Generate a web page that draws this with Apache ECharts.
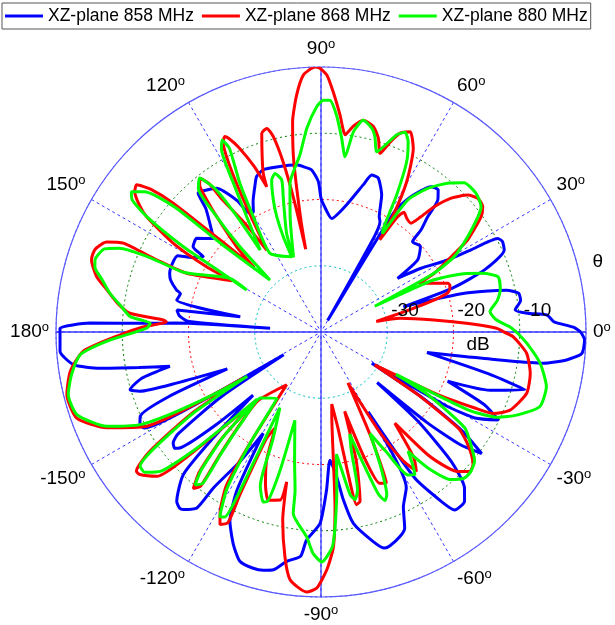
<!DOCTYPE html>
<html><head><meta charset="utf-8">
<script src="https://cdn.jsdelivr.net/npm/echarts@6/dist/echarts.min.js"></script>
<style>html,body{margin:0;padding:0;background:#fff}#c{width:615px;height:625px}</style>
</head><body><div id="c"></div>
<script>
// ---- data: [angle (deg), gain (dB)] in drawing order ----
const seriesNames = ['XZ-plane 858 MHz', 'XZ-plane 868 MHz', 'XZ-plane 880 MHz'];
const angleTicks = [0, 30, 60, 90, 120, 150, 180, 210, 240, 270, 300, 330];
const ringLabels = [-30, -20, -10];

const blue858 = [[0,-0.8],[1.1,-1.9],[2.5,-4.8],[4.3,-5.8],[5.2,-8.7],[6.5,-10.5],[9,-9.5],[11.1,-9.6],[12.7,-11.3],[14.9,-17],[16,-22],[17,-27],
[18.5,-19],[20.8,-13.6],[24.1,-9.7],[26.5,-9.4],[27.9,-9.8],[28.7,-14.2],[29.6,-18],[32.5,-22.1],[35,-25.9],
[36.7,-21.8],[40.7,-20.2],[44.6,-20.6],[45.6,-18.4],[47.2,-16.3],[48.5,-13.4],[50.5,-12.2],[52.9,-12.5],[56.4,-15.5],[58.6,-18.7],[60,-38],[60.8,-23.5],[61.9,-21.1],[63.2,-20.5],[66.1,-17.4],[69.6,-15.2],[72.1,-15.1],[74,-16.9],[78.6,-20.4],[84.6,-22.8],[88.5,-21],[90,-19.8],[91,-17.3],[93.3,-15.5],[96.1,-14.9],[98.3,-14.5],[105,-14.2],[109.6,-14],[112.5,-14.6],[114.2,-15.7],[117.5,-17.8],[119.4,-19.2],[120.9,-19.1],[122.6,-16.4],[126,-13.2],[128.8,-12.5],[131.5,-12],[133,-14.5],[135.6,-16.5],[139,-18.5],[143,-16.5],[146.3,-16.8],[147.4,-18.9],[150,-17.5],[152,-15.5],[155,-15.3],[158.8,-15.5],[161,-16],[163.8,-17.3],[164.7,-18],[167.5,-17.7],[169.3,-27.6],[171.3,-18],[173.5,-18.5],[175.5,-20],[175.9,-32.3],[176.5,-18],[177.1,-14.2],[177.8,-5.1],[179.2,-0.6],
[181.3,-0.6],[184.2,-0.5],[187.5,-2.3],[189.3,-6.2],[191,-12],[192.8,-16.6],[194.5,-12],[196.8,-9.9],[198.1,-11.2],[199.5,-17],[201.5,-24.8],[203,-15],[205,-9.9],[207.1,-9.3],[208.5,-9.6],[210,-18],[211.4,-33.4],[213,-22],[215.5,-13.5],[216.9,-12.1],[218.5,-11.8],[219.4,-12.4],[221.5,-19],[222.9,-26],[224.5,-17.2],[226,-10.1],[229.6,-6.4],[231.3,-5.9],[232.2,-6.1],[234.8,-7.5],[235.4,-11.4],[238,-17],[240.3,-22.4],[242,-13],[244.3,-8.3],[247.6,-5.3],[250.5,-3.3],[254,-2.9],[256.4,-3],[258.7,-3.4],[261.5,-5],[264.8,-6],[266,-8.5],[269.7,-11.1],[272,-16.1],[274,-20.6],[276.2,-18],[277.6,-14.4],[279.6,-10.7],[284,-7.4],[286.4,-6],[287.9,-6.1],[291.1,-6.9],[293.1,-7.8],[295.2,-10.8],[298.7,-13.2],[300.6,-26],[302.7,-13.8],[305.4,-8.6],[306.9,-6.4],[310.3,-6.5],[312.6,-8],[315.2,-12.3],[317.4,-20.1],[318,-28.6],[319.5,-19],[321,-13],[322.9,-9.6],[325,-14],[327.1,-22],[328.4,-31],[329.5,-18],[330.8,-13.4],[333.6,-10.1],[336,-13],[338.8,-19.5],[341,-13],[344.2,-8],[346,-14],[349,-23.7],[350.4,-17.7],[351.1,-12.6],[352,-6.1],[353.5,-2.7],[355.3,-0.5],[358.3,-0.2],[360,-0.8]];

const red868 = [[0,-12.4],[1.2,-13.5],[3.4,-18],[6.1,-22.9],[9.8,-27.9],[10.8,-31.5],[13.3,-27.8],[14.7,-24.9],[15.8,-22.2],[17.1,-20],[18.5,-19.5],[20,-19.3],[21,-19.5],[23.5,-21.5],[25.4,-22.9],[26.3,-23.5],[27.4,-20.7],[30.5,-16.6],[32.1,-13.9],[35.8,-10.2],[37.8,-9.1],[40.5,-8.9],[43,-9.7],[45.8,-11.8],[47.9,-14.5],[49.1,-17],[50.4,-18.7],[53,-18.5],[55.3,-18],[56.4,-19.1],[57.5,-23.5],[58.3,-19.2],[60.3,-13.9],[63.3,-9],[66,-6.9],[68.3,-7.7],[70,-9.5],[71.7,-11.6],[73.5,-9.5],[75.7,-8],[78.7,-7.4],[81,-8.5],[83,-10],[85,-7.1],[87.1,-3.7],[88.7,-1.2],[90.4,-0.1],[91.3,0],[93.9,-1.1],[95.9,-4.1],[97.7,-8],[98.9,-13],[99.6,-18],[100.2,-23],[100.5,-27.3],
[101.5,-20],[102.5,-14],[103.7,-9.7],[104.9,-8.2],[106.6,-8.7],[108.5,-12],[110,-14.5],[110.5,-16.6],[112,-13],[114,-9.5],[115.5,-7.6],[116.2,-7.1],[117.3,-7.8],[118.5,-10.5],[120,-15.5],[121.5,-20.5],[123.5,-25.2],[125,-20],[126.7,-15],[127,-12],[128.2,-10.5],[129.5,-11.2],[131,-14],[132.1,-16.5],[134.7,-21.9],[136,-26],[137.5,-20],[138.9,-10.4],[140,-6.5],[141.4,-4.4],[143,-4.8],[145,-6.5],[146.5,-8.4],[149,-14],[150.3,-20.1],[150,-24.5],[156.4,-17.9],[156.3,-12.9],[155.8,-7.3],[157.2,-4.9],[159.5,-3.8],[160.9,-3.6],[162.6,-3.7],[166.1,-5.1],[168.9,-7.1],[172,-9],[174.4,-11],[175.6,-16.1],[176.2,-16.6],[178.5,-13],
[180.8,-9.7],[184.6,-4],[188.9,-1.7],[193.8,-0.5],[199.4,-0.9],[204.1,-4.6],[208.4,-10.1],[210.2,-21.2],[210.6,-26.4],[212.3,-16.6],[214.9,-8.5],[217,-5.1],[218.2,-5.2],[221.3,-7],[223.1,-13],[224.5,-20.1],[226.5,-25.5],[227,-18],[229,-12],[230.8,-9.5],[232,-10.5],[230.5,-16],[228.5,-22],[227.5,-26],[236.9,-30.5],[237.4,-21],[238.3,-12.9],[240.7,-8.9],[242.3,-7.2],[244,-8],[243.5,-12.6],[242.9,-22],[244.5,-24],[247,-19],[250,-15.5],[252.6,-13.4],[256.3,-13.9],[257.1,-16.8],[258.5,-11],[260.9,-5.6],[262.9,-2.3],[266.8,-0.7],[269,-1.3],[271.4,-4.1],[273.3,-7.5],[274.6,-13.6],[275.6,-21.1],[277.2,-27],[278.5,-29],[280,-25.3],[281,-16],[281.6,-13.4],[283,-13.8],[285.3,-19.8],[286.6,-27.5],[289,-20],[291.2,-15.5],[293.4,-15.2],[295.4,-22.3],[297.9,-31.3],[300.5,-22],[302.5,-17],[304.4,-14.5],[306.5,-16.5],[309,-22.3],[311,-15.5],[313,-12],[314.5,-10.5],[316.9,-9.2],[319,-9.6],[320.8,-10.7],[323,-12.5],[325,-14.7],[327.1,-22.6],[328.5,-30.5],[331.8,-20],[333.7,-14.1],[334.7,-11.2],[337.6,-9.1],[343.4,-7.6],[348.8,-7.8],[354.1,-8.8],[358.6,-11],[360,-12.4]];

const green880 = [[0,-10.5],[1.6,-11.5],[4,-13.5],[6.9,-14.3],[10,-13],[13.2,-12.2],[17.3,-12],[19.9,-14],[21.9,-16.3],[24.8,-21.3],[25.6,-31],[27.4,-21],[29.5,-16.9],[33,-13.6],[36.3,-10.6],[38.1,-9.3],[41.8,-8.6],[46.2,-8.8],[49.6,-10.5],[53.4,-13],[56.7,-16.2],[58,-22.5],[59,-21.7],[61.1,-16.4],[63.3,-11.2],[65.4,-8.4],[67.2,-7.3],[69,-8.1],[72.8,-11.5],[74.5,-9.5],[76,-8.3],[78.7,-7.4],[80.8,-9.4],[82.2,-13.3],[83.9,-10.6],[85.9,-7.2],[87.8,-5],[89.4,-5],[91.1,-6],[94,-9.2],[96.8,-13.1],[101.8,-17.1],[105,-22],[110.2,-28],
[109.2,-24.2],[105.9,-19.3],[104.5,-16.3],[106.2,-15.1],[108,-15.9],[109.9,-18.9],[111,-21.4],[111.6,-24.5],[111.3,-27.8],[123,-25.8],[120.4,-19.8],[118.6,-14.4],[116.5,-9],[117.3,-7.4],[118.5,-8.5],[120.5,-14],[122.8,-19.3],[126.6,-24.6],[126,-18],[126.5,-13],[128.3,-10.4],[130.5,-11.5],[132,-16],[133.5,-22],[134.4,-29],[138.5,-20],[139.5,-11],[141.5,-6],[143.5,-4.4],[145,-5.2],[146.5,-8.5],[148.2,-15.5],[149,-21.4],[150.5,-27.1],[149.5,-24],[156.5,-17.5],[156.5,-12],[157.5,-7],[159,-5],[162.3,-4.2],[164,-4.5],[166.5,-6],[169.6,-7.6],[172.5,-9.5],[175.4,-11.1],[177.1,-14.2],[178.7,-13.7],
[182.5,-7.6],[185.4,-3.5],[189.7,-1.8],[193.9,-0.7],[198.7,-1.1],[203.8,-4.7],[207.1,-9.3],[208.7,-14.6],[210.4,-22.3],[211,-27],[212.5,-17],[215,-9],[216.6,-6],[218.5,-6],[221,-8],[223,-14],[224.5,-20.5],[226.5,-26],[227,-18.5],[229,-12.5],[230.5,-10.1],[232,-11],[230.5,-16.5],[228.5,-22.5],[227.5,-26.5],[236.5,-28],[237.5,-20],[239,-12.5],[241.3,-8.2],[242.5,-8.5],[243,-12],[242.5,-20],[241.5,-27],[246,-22],[248.5,-15],[251.2,-12.9],[252.3,-13.1],[253.5,-18],[253.5,-26.1],[258.5,-20],[260.7,-15.8],[261.3,-12.3],[266,-9],[268,-6.5],[270.2,-5.3],[273.2,-7.8],[275.7,-16],[277.2,-21.4],[278.5,-19],[280.2,-15],[281.5,-14.2],[283,-15.5],[284.3,-21.4],[285.7,-24],[287.5,-20],[289.5,-14],[290.8,-12.8],[292,-13.5],[294,-18],[295.8,-23],[298.5,-19.5],[301.4,-14.7],[303.3,-14.2],[304.5,-15.5],[306.1,-17.7],[308.2,-13.9],[311.4,-10.3],[314.5,-9.1],[317,-9.1],[319.9,-9.7],[322,-11],[326.3,-13.9],[329.6,-21.3],[330.5,-27],[332.1,-14.9],[334.3,-10.3],[337,-7.9],[341.2,-5.1],[346.4,-5],[351.9,-6.6],[356.9,-8.9],[360,-10.5]];

// ---- chart ----
const FONT = '"Liberation Sans", Arial, sans-serif';
const chart = echarts.init(document.getElementById('c'), null, {renderer: 'canvas'});
const toPolar = arr => arr.map(p => [p[1], p[0]]);
const degLabel = v => {
  if (v >= 360) return '';
  const a = v > 180 ? v - 360 : v;
  return '{n|' + a + '}{s|o}';
};
const mkSeries = (name, data, color) => ({
  name, type: 'line', coordinateSystem: 'polar', data: toPolar(data),
  symbol: 'none', smooth: 0.2, clip: false,
  lineStyle: {color, width: 3}, itemStyle: {color}, z: 5
});
const axisLineSeries = (data) => ({
  type: 'line', coordinateSystem: 'polar', data, symbol: 'none', silent: true,
  lineStyle: {color: '#3d3dff', width: 1.3}, z: 3, tooltip: {show: false}
});

chart.setOption({
  animation: false,
  backgroundColor: '#fff',
  textStyle: {fontFamily: FONT},
  legend: {
    data: seriesNames, left: 2, right: 0, top: 3, padding: [4, 3, 4, 3],
    itemWidth: 38, itemHeight: 3, itemGap: 8, icon: 'rect',
    borderColor: '#555', borderWidth: 1,
    textStyle: {fontSize: 17.5, color: '#000', fontFamily: FONT}
  },
  polar: {center: [321, 332], radius: 265},
  angleAxis: {
    type: 'value', min: 0, max: 360, interval: 30, startAngle: 0, clockwise: false,
    axisLine: {lineStyle: {color: '#5a5aff', width: 1.2}},
    axisTick: {show: false},
    splitLine: {show: true, lineStyle: {color: '#3a3aff', type: [3, 3], width: 1}},
    axisLabel: {
      margin: 7, color: '#000', formatter: degLabel,
      rich: {
        n: {fontSize: 19, fontFamily: FONT, color: '#000'},
        s: {fontSize: 13, fontFamily: FONT, color: '#000', verticalAlign: 'bottom', padding: [0, 0, 9, 0]}
      }
    }
  },
  radiusAxis: {
    type: 'value', min: -40, max: 0, interval: 10,
    axisLine: {show: false}, axisTick: {show: false}, axisLabel: {show: false},
    splitLine: {show: true, lineStyle: {color: ['#ffffff', '#00bfbf', '#ff0000', '#008000', '#5a5aff'], type: [2, 3], width: 1}}
  },
  series: [
    axisLineSeries([[0, 0], [0, 180]]),
    axisLineSeries([[0, 90], [0, 270]]),
    mkSeries(seriesNames[0], blue858, '#0000ff'),
    mkSeries(seriesNames[1], red868, '#ff0000'),
    mkSeries(seriesNames[2], green880, '#00ff00')
  ]
});

// text annotations placed through the polar coordinate system
const px = v => chart.convertToPixel({polarIndex: 0}, v);
const texts = ringLabels.map(v => {
  const p = px([v, 0]);
  return {type: 'text', x: p[0] + 4, y: p[1] - 21,
    style: {text: String(v), fontSize: 19, fontFamily: FONT, fill: '#000', align: 'left', verticalAlign: 'middle'}, z: 10};
});
const pTheta = px([3.1, 14.2]);
texts.push({type: 'text', x: pTheta[0], y: pTheta[1],
  style: {text: 'θ', fontSize: 19, fontFamily: FONT, fill: '#000', align: 'center', verticalAlign: 'middle'}, z: 10});
const pDb = px([-16.2, 355.3]);
texts.push({type: 'text', x: pDb[0], y: pDb[1],
  style: {text: 'dB', fontSize: 19, fontFamily: FONT, fill: '#000', align: 'center', verticalAlign: 'middle'}, z: 10});
chart.setOption({graphic: texts});
</script></body></html>
